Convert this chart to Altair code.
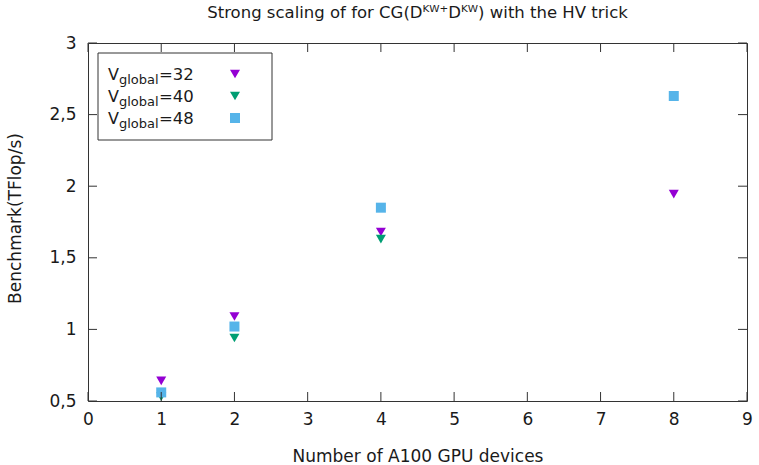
import altair as alt
import pandas as pd

# ---- data ----
devices = [1, 2, 4, 8]
series_names = ["32", "40", "48"]
vals_32 = [0.64, 1.09, 1.68, 1.945]
vals_40 = [0.53, 0.94, 1.63]
vals_48 = [0.56, 1.02, 1.85, 2.63]
x_ticks = [0, 1, 2, 3, 4, 5, 6, 7, 8, 9]
y_ticks = [0.5, 1.0, 1.5, 2.0, 2.5, 3.0]
title_text = "Strong scaling of for CG(D\u1d37\u1d42\u207aD\u1d37\u1d42) with the HV trick"

colors = ["#9400D3", "#009E73", "#56B4E9"]
shapes = ["triangle-down", "triangle-down", "square"]
sizes = [100, 100, 81]

FONT = "DejaVu Sans"
FS = 17
W, H = 659, 358
TICK = 9
INK = "#333333"
TXT = "#1a1a1a"

rows = []
for s, vals in zip(series_names, [vals_32, vals_40, vals_48]):
    for d, v in zip(devices, vals):
        rows.append({"series": s, "devices": d, "value": v})
df = pd.DataFrame(rows)

xscale = alt.Scale(domain=[0, 9], nice=False, zero=False)
yscale = alt.Scale(domain=[0.5, 3], nice=False, zero=False)
cscale = alt.Scale(domain=series_names, range=colors)
sscale = alt.Scale(domain=series_names, range=shapes)
zscale = alt.Scale(domain=series_names, range=sizes)

xaxis = alt.Axis(values=x_ticks, title="Number of A100 GPU devices",
                 labelFontSize=FS, labelPadding=10, labelFlush=False,
                 labelOverlap=False, ticks=False, domain=False, grid=False,
                 titleFontSize=FS, titleFontWeight="normal",
                 titleY=60, titleBaseline="alphabetic",
                 labelColor=TXT, titleColor=TXT,
                 labelFont=FONT, titleFont=FONT)

points = alt.Chart(df).mark_point(filled=True, opacity=1, strokeWidth=0).encode(
    x=alt.X("devices:Q", scale=xscale, axis=xaxis),
    y=alt.Y("value:Q", scale=yscale,
            axis=alt.Axis(values=y_ticks,
                          labelExpr="replace(toString(datum.value), '.', ',')",
                          title="Benchmark(TFlop/s)",
                          labelFontSize=FS, labelPadding=12, labelOverlap=False,
                          labelFlush=False, ticks=False, domain=False, grid=False,
                          titleFontSize=FS, titleFontWeight="normal",
                          titleX=-73, titleY=H / 2 - 4, titleBaseline="middle",
                          labelColor=TXT, titleColor=TXT,
                          labelFont=FONT, titleFont=FONT)),
    color=alt.Color("series:N", scale=cscale, legend=None),
    shape=alt.Shape("series:N", scale=sscale, legend=None),
    size=alt.Size("series:N", scale=zscale, legend=None),
)

xt = pd.DataFrame({"t": x_ticks})
yt = pd.DataFrame({"t": y_ticks})

xt_bottom = alt.Chart(xt).mark_rule(color=INK, strokeWidth=1).encode(
    x=alt.X("t:Q", scale=xscale, axis=xaxis), y=alt.value(H - TICK), y2=alt.value(H))
xt_top = alt.Chart(xt).mark_rule(color=INK, strokeWidth=1).encode(
    x=alt.X("t:Q", scale=xscale, axis=xaxis), y=alt.value(0), y2=alt.value(TICK))
yt_left = alt.Chart(yt).mark_rule(color=INK, strokeWidth=1).encode(
    y=alt.Y("t:Q", scale=yscale, axis=None), x=alt.value(0), x2=alt.value(TICK))
yt_right = alt.Chart(yt).mark_rule(color=INK, strokeWidth=1).encode(
    y=alt.Y("t:Q", scale=yscale, axis=None), x=alt.value(W - TICK), x2=alt.value(W))

# ---- title as a text mark above the plot ----
title = alt.Chart(pd.DataFrame({"t": [title_text]})).mark_text(
    align="center", baseline="alphabetic", font=FONT, fontSize=16.5, color=TXT).encode(
    x=alt.value(W / 2), y=alt.value(-25), text="t:N")

# ---- legend (drawn by hand to allow the subscript) ----
leg = pd.DataFrame({"series": series_names, "label": ["=" + s for s in series_names]})
ylegend = alt.Y("series:N", scale=alt.Scale(type="point", domain=series_names,
                                            range=[31, 75], padding=0), axis=None)

box = alt.Chart(pd.DataFrame({"a": [0]})).mark_rect(
    fill="white", stroke=INK, strokeWidth=1).encode(
    x=alt.value(10), x2=alt.value(184), y=alt.value(10), y2=alt.value(97))

leg_v = alt.Chart(leg).mark_text(align="left", baseline="middle", font=FONT,
                                 fontSize=16, color=TXT, dy=1).encode(
    x=alt.value(20), y=ylegend, text=alt.value("V"))
leg_sub = alt.Chart(leg).mark_text(align="left", baseline="middle", font=FONT,
                                   fontSize=13, color=TXT, dy=6).encode(
    x=alt.value(31), y=ylegend, text=alt.value("global"))
leg_val = alt.Chart(leg).mark_text(align="left", baseline="middle", font=FONT,
                                   fontSize=16.5, color=TXT, dy=1).encode(
    x=alt.value(71), y=ylegend, text="label:N")
leg_sym = alt.Chart(leg).mark_point(filled=True, opacity=1, strokeWidth=0).encode(
    x=alt.value(147), y=ylegend,
    color=alt.Color("series:N", scale=cscale, legend=None),
    shape=alt.Shape("series:N", scale=sscale, legend=None),
    size=alt.Size("series:N", scale=zscale, legend=None),
)

chart = alt.layer(
    points, xt_bottom, xt_top, yt_left, yt_right, title,
    box, leg_v, leg_sub, leg_val, leg_sym
).resolve_scale(y="independent").properties(
    width=W, height=H,
    autosize=alt.AutoSizeParams(type="none"),
    padding={"left": 88, "top": 43, "right": 12, "bottom": 64},
    background="white",
).configure_view(stroke=INK, strokeWidth=1)

chart.save("out.html", embed_options={"renderer": "svg", "actions": False})
